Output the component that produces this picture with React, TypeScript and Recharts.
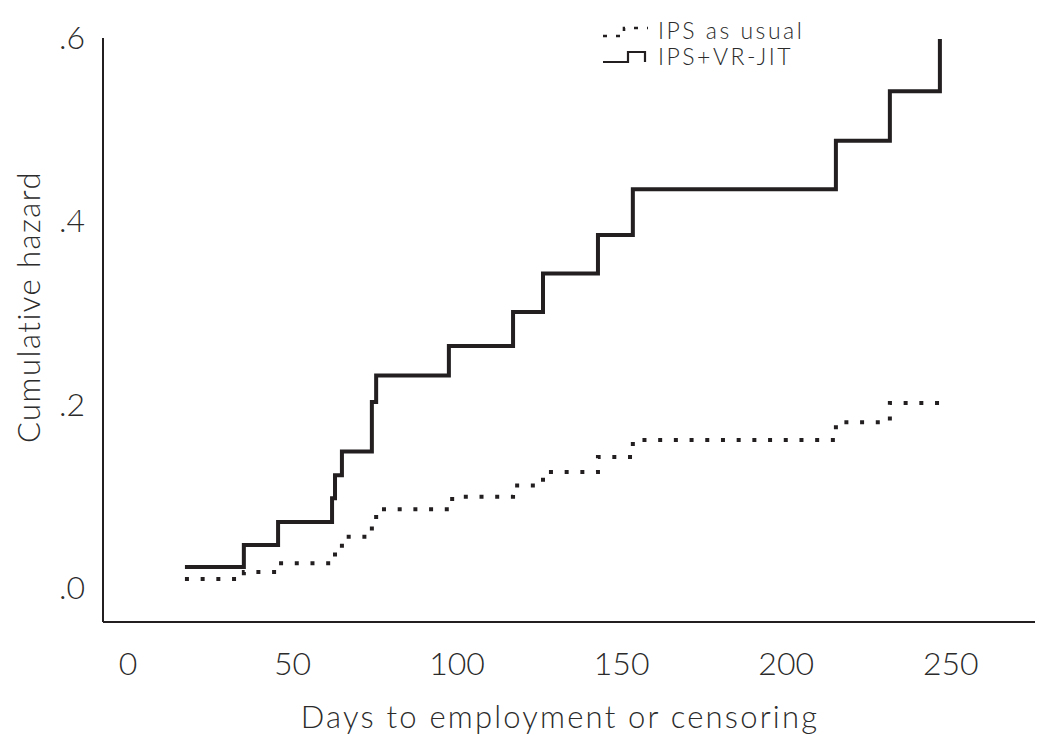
import React from 'react';
import { LineChart, Line, XAxis, YAxis, Legend } from 'recharts';

// days (x) and cumulative hazard (y) at each step
const vrJitDays = [17.3, 35.2, 45.6, 62.0, 62.9, 65.0, 74.1, 75.4, 97.5, 117.0, 126.1, 142.8, 153.4, 215.1, 231.5, 246.7];
const vrJitHazard = [0.023, 0.047, 0.072, 0.098, 0.123, 0.149, 0.203, 0.232, 0.264, 0.301, 0.343, 0.385, 0.435, 0.488, 0.542, 0.599];

const usualDays = [17.3, 35.2, 45.6, 62.9, 65.0, 74.1, 75.4, 98.5, 117.0, 126.1, 142.8, 153.4, 215.1, 231.5, 246.7];
const usualHazard = [0.0098, 0.0175, 0.027, 0.041, 0.056, 0.07, 0.086, 0.0995, 0.112, 0.1265, 0.143, 0.1615, 0.181, 0.202, 0.208];

const xTicks = [0, 50, 100, 150, 200, 250];
const yTicks = [0, 0.2, 0.4, 0.6];

const seriesNames = ['IPS as usual', 'IPS+VR-JIT'];

const INK = '#231f20';
const TEXT = '#2b2b2b';
const FONT = 'Lato, "Noto Sans", sans-serif';

const vrJitData = vrJitDays.map((d, i) => ({ day: d, hazard: vrJitHazard[i] }));
const usualData = usualDays.map((d, i) => ({ day: d, hazard: usualHazard[i] }));

const fmtY = (v: number) => v.toFixed(1).replace(/^0/, '');

function XTick(props: any) {
  const { x, y, payload } = props;
  return (
    <text x={x} y={y + 45} textAnchor="middle" fontFamily={FONT} fontWeight={300} fontSize={32} fill={TEXT}>
      {payload.value}
    </text>
  );
}

function YTick(props: any) {
  const { x, y, payload } = props;
  return (
    <text x={x - 10} y={y + 11} textAnchor="end" fontFamily={FONT} fontWeight={300} fontSize={32} fill={TEXT}>
      {fmtY(payload.value)}
    </text>
  );
}

function renderLegend() {
  const row: React.CSSProperties = { display: 'flex', alignItems: 'center', height: 26 };
  const label: React.CSSProperties = {
    display: 'block', fontFamily: FONT, fontWeight: 300, fontSize: 23, letterSpacing: 2.5,
    color: TEXT, marginLeft: 8, lineHeight: '22px', height: 22, overflow: 'visible',
  };
  return (
    <div>
      <div style={row}>
        <svg width={50} height={26}>
          <path d="M3 19 H24 V11 H48" fill="none" stroke={INK} strokeWidth={2.6} strokeDasharray="4 9" />
        </svg>
        <span style={label}>{seriesNames[0]}</span>
      </div>
      <div style={row}>
        <svg width={50} height={26}>
          <path d="M3 19 H28 V9 H45 V19" fill="none" stroke={INK} strokeWidth={2.2} />
        </svg>
        <span style={label}>{seriesNames[1]}</span>
      </div>
    </div>
  );
}

export default function App() {
  return (
    <div style={{ position: 'absolute', left: 0, top: 0, width: 1050, height: 744, background: '#fff' }}>
      <LineChart width={1050} height={744} margin={{ top: 38, right: 15, left: 0, bottom: 0 }}>
        <XAxis
          type="number"
          dataKey="day"
          domain={[-7.6, 275.6]}
          ticks={xTicks}
          allowDataOverflow
          tickLine={false}
          tick={<XTick />}
          height={122}
          axisLine={{ stroke: INK, strokeWidth: 2 }}
          label={{
            content: () => (
              <text x={560} y={728} textAnchor="middle" fontFamily={FONT} fontWeight={300} fontSize={31} letterSpacing={2.2} fill={TEXT}>
                Days to employment or censoring
              </text>
            ),
          }}
        />
        <YAxis
          type="number"
          domain={[-0.037, 0.6]}
          ticks={yTicks}
          allowDataOverflow
          tickLine={false}
          tick={<YTick />}
          width={103}
          axisLine={{ stroke: INK, strokeWidth: 2 }}
          label={{
            content: () => (
              <text x={40} y={307} transform="rotate(-90, 40, 307)" textAnchor="middle" fontFamily={FONT} fontWeight={300} fontSize={31} letterSpacing={1.5} fill={TEXT}>
                Cumulative hazard
              </text>
            ),
          }}
        />
        <Legend
          layout="vertical"
          verticalAlign="middle"
          align="center"
          content={renderLegend}
          wrapperStyle={{ top: 17, left: 600, width: 260, height: 56 }}
        />
        <Line
          data={usualData}
          dataKey="hazard"
          name={seriesNames[0]}
          type="stepAfter"
          stroke={INK}
          strokeWidth={4}
          strokeDasharray="4 11.7"
          dot={false}
          activeDot={false}
          isAnimationActive={false}
        />
        <Line
          data={vrJitData}
          dataKey="hazard"
          name={seriesNames[1]}
          type="stepAfter"
          stroke={INK}
          strokeWidth={4}
          dot={false}
          activeDot={false}
          isAnimationActive={false}
        />
      </LineChart>
    </div>
  );
}
